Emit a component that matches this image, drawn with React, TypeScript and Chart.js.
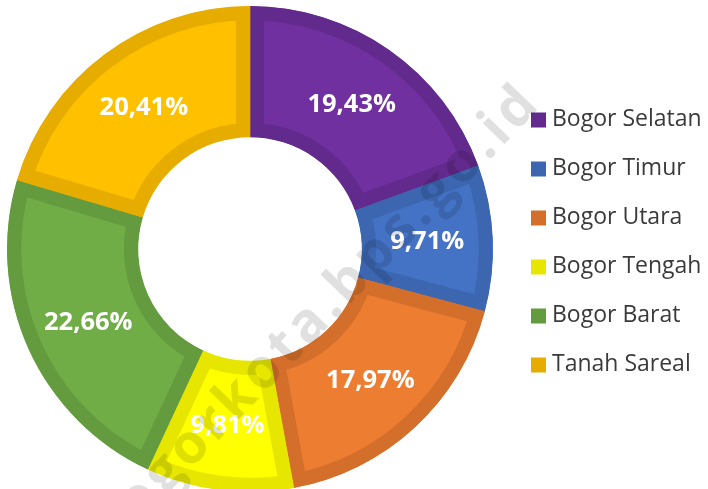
import { useEffect, useRef } from "react";
import { Chart, registerables } from "chart.js";

Chart.register(...registerables);

const categories = ["Bogor Selatan", "Bogor Timur", "Bogor Utara", "Bogor Tengah", "Bogor Barat", "Tanah Sareal"];
const shares = [19.43, 9.71, 17.97, 9.81, 22.66, 20.41];
const fillColors = ["#7030A0", "#4472C4", "#ED7D31", "#FFFF00", "#70AD47", "#FFC000"];
const edgeColors = ["#632A8E", "#3C66B0", "#D46F2B", "#E6E600", "#649B3F", "#E6AC00"];
const watermarkText = "bogorkota.bps.go.id";

const fmt = (v: number) => v.toFixed(2).replace(".", ",") + "%";

const valueLabels = {
  id: "valueLabels",
  afterDatasetsDraw(chart: any) {
    const ctx = chart.ctx;
    const meta = chart.getDatasetMeta(0);
    ctx.save();
    ctx.font = "bold 25.5px 'Open Sans'";
    ctx.fillStyle = "#FFFFFF";
    ctx.textAlign = "center";
    ctx.textBaseline = "middle";
    meta.data.forEach((arc: any, i: number) => {
      const p = arc.getCenterPoint();
      ctx.fillText(fmt(shares[i]), p.x, p.y + 1);
    });
    ctx.restore();
  },
};

const sideLegend = {
  id: "sideLegend",
  afterDraw(chart: any) {
    const ctx = chart.ctx;
    ctx.save();
    ctx.font = "23px 'Open Sans'";
    ctx.textAlign = "left";
    ctx.textBaseline = "middle";
    categories.forEach((name, i) => {
      const y = 120 + 49 * i;
      ctx.fillStyle = edgeColors[i];
      ctx.fillRect(531, y - 7.5, 15, 15);
      ctx.fillStyle = "#3A3A3A";
      ctx.fillText(name, 552, y - 1);
    });
    ctx.restore();
  },
};

const watermark = {
  id: "watermark",
  afterDraw(chart: any) {
    const ctx = chart.ctx;
    ctx.save();
    const ang = (-46 * Math.PI) / 180;
    ctx.translate(100, 540);
    ctx.rotate(ang);
    ctx.font = "bold 55px 'Open Sans'";
    ctx.fillStyle = "rgba(0,0,0,0.12)";
    ctx.textAlign = "left";
    ctx.textBaseline = "alphabetic";
    let x = 0;
    for (const ch of watermarkText) {
      ctx.fillText(ch, x, 16);
      x += ctx.measureText(ch).width + 4;
    }
    ctx.restore();
  },
};

export default function App() {
  const ref = useRef<HTMLCanvasElement | null>(null);
  useEffect(() => {
    if (!ref.current) return;
    const chart = new Chart(ref.current, {
      type: "doughnut",
      data: {
        labels: categories,
        datasets: [
          {
            data: shares,
            backgroundColor: fillColors,
            borderColor: edgeColors,
            borderWidth: 14,
            borderAlign: "inner",
            borderJoinStyle: "miter",
          } as any,
        ],
      },
      options: {
        animation: false,
        responsive: false,
        events: [],
        radius: 243,
        cutout: "46%",
        layout: { padding: { left: 0, right: 208, top: 0, bottom: 12 } },
        plugins: {
          legend: { display: false },
          tooltip: { enabled: false },
        },
      } as any,
      plugins: [valueLabels, sideLegend, watermark],
    });
    return () => chart.destroy();
  }, []);
  return (
    <div style={{ position: "absolute", left: 0, top: 0, width: 708, height: 489, overflow: "hidden", background: "#fff" }}>
      <canvas ref={ref} width={708} height={510} style={{ display: "block" }} />
    </div>
  );
}
